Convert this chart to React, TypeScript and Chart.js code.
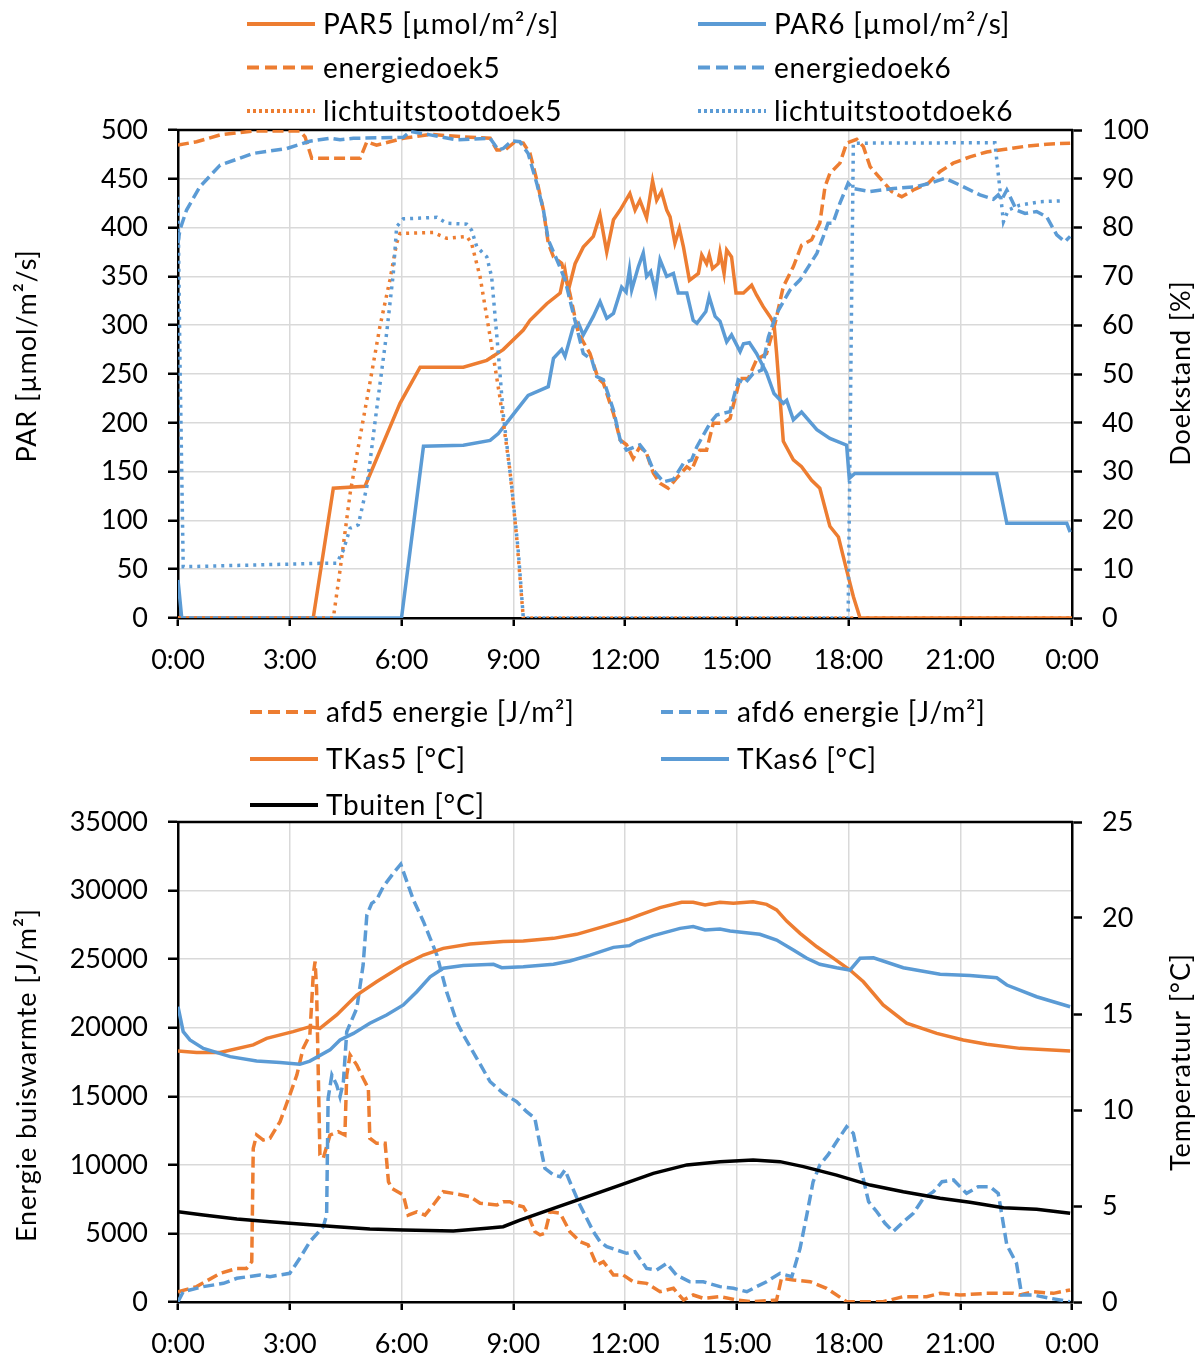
import React, { useEffect, useRef } from 'react';
import { Chart, registerables } from 'chart.js';

Chart.register(...registerables);

const ORANGE = '#ED7D31';
const BLUE = '#5B9BD5';
const BLACK = '#000000';
const GRID = '#D9D9D9';
const FONT = 'Lato';

const timeTickLabels = ['0:00', '3:00', '6:00', '9:00', '12:00', '15:00', '18:00', '21:00', '0:00'];

const topLeftTitle = 'PAR [µmol/m²/s]';
const topRightTitle = 'Doekstand [%]';
const bottomLeftTitle = 'Energie buiswarmte [J/m²]';
const bottomRightTitle = 'Temperatuur [°C]';

// ---------- Top chart data (hours since 0:00) ----------
const par5Hours = [0, 3.63, 4.17, 5.02, 5.96, 6.5, 7.66, 8.29, 8.73, 9.27, 9.45, 9.9, 10.26, 10.39, 10.48, 10.66, 10.88, 11.15, 11.33, 11.51, 11.69, 11.87, 12.13, 12.27, 12.4, 12.58, 12.74, 12.85, 12.98, 13.12, 13.21, 13.34, 13.46, 13.57, 13.73, 13.97, 14.06, 14.19, 14.26, 14.35, 14.5, 14.55, 14.66, 14.73, 14.86, 14.98, 15.18, 15.4, 15.53, 15.71, 15.89, 16.0, 16.07, 16.25, 16.52, 16.74, 17.01, 17.23, 17.5, 17.73, 17.95, 18.13, 18.31, 24];
const par5Values = [0, 0, 133, 135, 220, 257, 257, 264, 275, 295, 305, 322, 333, 356, 336, 363, 380, 391, 413, 375, 408, 418, 435, 418, 428, 410, 448, 428, 437, 418, 411, 384, 399, 380, 346, 353, 372, 363, 372, 358, 363, 375, 353, 377, 370, 333, 333, 341, 331, 319, 309, 302, 271, 181, 162, 155, 141, 133, 94, 83, 49, 22, 0, 0];

const par6Hours = [0, 0.1, 6.0, 6.59, 7.66, 8.38, 8.6, 9.09, 9.4, 9.76, 9.94, 10.08, 10.3, 10.39, 10.61, 10.75, 10.88, 11.15, 11.33, 11.51, 11.69, 11.91, 12.03, 12.12, 12.18, 12.36, 12.49, 12.58, 12.69, 12.82, 12.94, 13.12, 13.3, 13.43, 13.66, 13.83, 13.93, 14.17, 14.26, 14.42, 14.55, 14.73, 14.86, 15.09, 15.18, 15.34, 15.53, 15.8, 16.0, 16.25, 16.34, 16.52, 16.74, 17.15, 17.5, 17.95, 18.02, 18.17, 21.98, 22.25, 23.86, 23.95];
const par6Values = [39, 0, 0, 176, 177, 182, 189, 213, 228, 234, 237, 266, 275, 268, 298, 302, 290, 309, 324, 307, 312, 339, 334, 357, 336, 360, 374, 350, 355, 334, 367, 350, 353, 333, 333, 305, 302, 314, 329, 309, 304, 283, 290, 273, 281, 282, 271, 251, 230, 220, 223, 203, 211, 193, 184, 177, 143, 148, 148, 97, 97, 88];

const doek5Hours = [0, 0.5, 1.13, 2.02, 3.27, 3.41, 3.59, 4.89, 5.07, 5.33, 6.05, 6.77, 7.66, 8.38, 8.56, 8.78, 9.05, 9.27, 9.45, 9.63, 9.81, 9.94, 10.08, 10.3, 10.52, 10.75, 11.06, 11.28, 11.42, 11.69, 11.87, 12.04, 12.22, 12.4, 12.58, 12.76, 12.94, 13.16, 13.38, 13.66, 13.79, 14.01, 14.19, 14.37, 14.64, 14.82, 15.09, 15.31, 15.53, 15.8, 16.03, 16.25, 16.52, 16.74, 17.01, 17.23, 17.37, 17.5, 17.77, 17.95, 18.22, 18.4, 18.58, 18.93, 19.16, 19.43, 19.74, 20.14, 20.46, 20.81, 21.26, 21.71, 22.16, 22.78, 23.32, 23.95];
const doek5Values = [96.9, 97.6, 99, 99.8, 99.8, 98.6, 94.2, 94.2, 97.6, 96.9, 98.3, 99.1, 98.6, 98.3, 95.9, 95.9, 97.6, 97.3, 95.2, 89.8, 83.6, 76.8, 74, 72.7, 66.5, 58.3, 54.2, 49.1, 48.1, 41.9, 36.5, 35.5, 32.7, 35.1, 33.7, 29.7, 27.6, 26.6, 28.6, 31, 30.3, 34.4, 34.4, 39.9, 39.9, 40.9, 49.1, 49.1, 52.9, 54.2, 60.4, 67.9, 72, 76.4, 77.5, 80.9, 88.4, 91.1, 93.2, 97.3, 98.1, 96.6, 92.5, 89.4, 87.4, 86.3, 87.7, 89.1, 91.5, 93.2, 94.5, 95.5, 96, 96.7, 97.1, 97.3];

const doek6Hours = [0, 0.05, 0.23, 0.59, 1.13, 2.02, 2.92, 3.54, 4.08, 4.35, 4.71, 6.05, 6.23, 6.77, 7.48, 8.38, 8.6, 8.73, 8.96, 9.18, 9.4, 9.63, 9.81, 9.94, 10.21, 10.39, 10.61, 10.88, 11.11, 11.24, 11.42, 11.69, 11.87, 12.04, 12.4, 12.58, 12.76, 13.03, 13.3, 13.57, 13.79, 13.93, 14.28, 14.46, 14.82, 15.04, 15.22, 15.44, 15.67, 15.85, 16.07, 16.43, 16.7, 17.15, 17.32, 17.45, 17.58, 17.77, 17.99, 18.13, 18.58, 19.2, 19.83, 20.19, 20.59, 20.99, 21.53, 21.89, 22.02, 22.11, 22.25, 22.51, 22.74, 23.05, 23.32, 23.59, 23.81, 23.95];
const doek6Values = [76.8, 79.5, 83.6, 88.4, 92.8, 95.2, 96.2, 97.7, 98.3, 98, 98.3, 98.5, 99.7, 99, 98, 98.3, 95.9, 96.2, 97.8, 97.6, 95.2, 89.1, 83.6, 77.5, 72.7, 69.3, 62.4, 54.2, 52.9, 49.5, 48.8, 42.6, 36.5, 34.4, 35.5, 33.7, 30.3, 27.9, 28.4, 31.7, 32.4, 35.1, 39.9, 41.6, 42.3, 48.8, 48.1, 50.1, 50.8, 57.6, 62.4, 67.2, 69.3, 74.7, 78.1, 80.9, 80.9, 85, 89.1, 88, 87.4, 88, 88.4, 89.1, 90.1, 88.7, 86.7, 85.8, 86.7, 85.7, 87.7, 83.6, 82.9, 83.3, 82.2, 78.5, 77.1, 78.2];

const licht5Hours = [0, 4.17, 4.35, 4.62, 4.89, 5.15, 5.42, 5.69, 5.87, 5.96, 6.85, 7.21, 7.75, 7.88, 8.11, 8.38, 8.64, 8.91, 9.09, 9.27, 24];
const licht5Values = [0, 0, 9.8, 25.5, 37.2, 48.1, 59.7, 69.3, 76.8, 78.8, 79, 77.8, 78.2, 76.8, 69.9, 57.6, 45.3, 30.3, 16.7, 0, 0];

const licht6Hours = [0, 0.05, 0.14, 3.81, 4.26, 4.44, 4.62, 4.84, 5.07, 5.33, 5.6, 5.78, 5.87, 6.05, 6.95, 7.21, 7.75, 7.88, 8.02, 8.29, 8.42, 8.6, 8.73, 8.96, 9.14, 9.27, 17.99, 18.13, 21.93, 22.16, 22.29, 22.6, 23.14, 23.77];
const licht6Values = [86.3, 54, 10.5, 11.2, 11.2, 13.9, 18.4, 19.1, 26.9, 42.6, 58.3, 70.6, 80.2, 81.8, 82.1, 80.9, 80.7, 79.5, 76.1, 74, 69.9, 54.2, 41.9, 26.9, 13.3, 0, 0, 97.3, 97.4, 81.2, 83.6, 84.6, 85.3, 85.5];

// ---------- Bottom chart data ----------
const afd5Hours = [0, 0.5, 1.13, 1.58, 1.84, 1.98, 2.02, 2.11, 2.29, 2.47, 2.74, 3.0, 3.19, 3.36, 3.54, 3.63, 3.68, 3.72, 3.81, 3.9, 4.08, 4.3, 4.48, 4.53, 4.62, 4.8, 4.97, 5.11, 5.15, 5.33, 5.56, 5.65, 5.74, 6.05, 6.18, 6.41, 6.63, 6.85, 7.12, 7.39, 7.84, 8.11, 8.56, 8.73, 8.91, 9.09, 9.27, 9.4, 9.58, 9.72, 9.85, 9.99, 10.26, 10.52, 10.79, 11.01, 11.24, 11.42, 11.69, 11.95, 12.22, 12.58, 12.94, 13.3, 13.57, 13.83, 14.1, 14.55, 15.0, 15.44, 16.07, 16.2, 16.52, 16.97, 17.41, 17.95, 18.93, 19.47, 20.1, 20.46, 20.99, 21.71, 22.42, 22.6, 22.96, 23.5, 23.95];
const afd5Values = [750, 1120, 2090, 2450, 2450, 2940, 11200, 12180, 11810, 11940, 13150, 15090, 16550, 18500, 19470, 23840, 24820, 22870, 10720, 10480, 12180, 12420, 12180, 16550, 18010, 17280, 16310, 15580, 11940, 11570, 11570, 8770, 8290, 7800, 6340, 6580, 6340, 7070, 8040, 7920, 7680, 7200, 7070, 7310, 7310, 7070, 6950, 6340, 5130, 4890, 5010, 6580, 6470, 5130, 4400, 4160, 2700, 2940, 1970, 1970, 1480, 1360, 750, 1000, 150, 510, 270, 390, 150, 20, 150, 1730, 1600, 1480, 1000, 20, 20, 390, 390, 630, 510, 630, 630, 510, 750, 630, 880];

const afd6Hours = [0, 0.14, 0.68, 1.22, 1.58, 2.2, 2.47, 3.0, 3.27, 3.54, 3.9, 3.99, 4.03, 4.13, 4.26, 4.35, 4.44, 4.53, 4.8, 4.97, 5.07, 5.2, 5.33, 5.51, 5.78, 5.98, 6.05, 6.32, 6.59, 6.77, 6.95, 7.21, 7.48, 7.66, 8.02, 8.38, 8.73, 9.09, 9.36, 9.58, 9.72, 9.85, 10.08, 10.26, 10.39, 10.52, 10.79, 11.15, 11.33, 11.51, 11.78, 12.04, 12.27, 12.58, 12.85, 13.12, 13.38, 13.74, 14.1, 14.55, 14.91, 15.27, 15.53, 15.8, 16.16, 16.48, 16.7, 16.88, 17.05, 17.23, 17.45, 17.68, 17.95, 18.13, 18.31, 18.54, 18.76, 18.98, 19.2, 19.43, 19.74, 20.01, 20.28, 20.51, 20.82, 21.17, 21.48, 21.8, 22.02, 22.25, 22.51, 22.65, 22.96, 23.42, 23.95];
const afd6Values = [20, 750, 1120, 1360, 1730, 1970, 1850, 2090, 3190, 4400, 5490, 6340, 14850, 16550, 15820, 14970, 16060, 19710, 21420, 24570, 28220, 29070, 29310, 30280, 31260, 31920, 31380, 29310, 27730, 26520, 25300, 22630, 20440, 19470, 17770, 16060, 15220, 14610, 13880, 13400, 11450, 9750, 9260, 9140, 9630, 8770, 7070, 5130, 4400, 4030, 3790, 3550, 3670, 2450, 2330, 2820, 1970, 1480, 1480, 1120, 1000, 750, 1120, 1480, 2090, 1850, 3920, 6340, 8770, 9990, 10720, 11690, 12780, 12300, 9990, 7310, 6580, 5740, 5130, 5740, 6470, 7560, 8040, 8770, 8900, 7920, 8410, 8410, 7920, 4160, 2820, 510, 510, 270, 20];

const tkas5Hours = [0, 0.5, 1.13, 2.02, 2.38, 3.09, 3.54, 3.81, 4.26, 4.8, 5.33, 6.05, 6.59, 7.12, 7.84, 8.73, 9.27, 10.08, 10.7, 11.42, 12.12, 12.4, 12.94, 13.52, 13.83, 14.15, 14.55, 14.91, 15.44, 15.8, 16.07, 16.34, 16.7, 17.15, 17.6, 18.04, 18.4, 18.93, 19.56, 20.37, 21.08, 21.71, 22.6, 23.95];
const tkas5Values = [13.07, 13.0, 13.0, 13.39, 13.73, 14.08, 14.34, 14.25, 14.95, 15.99, 16.68, 17.55, 18.07, 18.42, 18.65, 18.77, 18.8, 18.94, 19.15, 19.55, 19.95, 20.16, 20.54, 20.82, 20.82, 20.68, 20.82, 20.77, 20.85, 20.71, 20.42, 19.84, 19.2, 18.5, 17.9, 17.29, 16.68, 15.47, 14.52, 13.99, 13.65, 13.42, 13.21, 13.07];

const tkas6Hours = [0, 0.14, 0.32, 0.68, 1.4, 2.11, 2.74, 3.27, 3.54, 4.08, 4.35, 4.71, 5.15, 5.6, 6.05, 6.41, 6.77, 7.12, 7.66, 8.47, 8.69, 9.27, 10.08, 10.52, 11.06, 11.69, 12.12, 12.31, 12.76, 13.48, 13.83, 14.15, 14.55, 14.82, 15.62, 16.07, 16.52, 16.88, 17.23, 17.68, 18.04, 18.31, 18.67, 19.47, 20.46, 21.26, 21.98, 22.25, 23.05, 23.95];
const tkas6Values = [15.38, 14.08, 13.65, 13.21, 12.78, 12.55, 12.47, 12.38, 12.55, 13.13, 13.65, 13.99, 14.52, 14.95, 15.47, 16.16, 16.94, 17.38, 17.52, 17.59, 17.41, 17.46, 17.59, 17.76, 18.07, 18.47, 18.56, 18.77, 19.08, 19.46, 19.55, 19.38, 19.43, 19.32, 19.15, 18.85, 18.33, 17.9, 17.59, 17.41, 17.29, 17.9, 17.93, 17.41, 17.07, 17.0, 16.89, 16.51, 15.9, 15.38];

const tbuitenHours = [0, 0.68, 1.58, 2.47, 3.36, 4.26, 5.15, 6.05, 7.39, 8.29, 8.73, 9.18, 10.08, 10.97, 11.87, 12.76, 13.66, 14.55, 15.44, 16.16, 16.79, 17.68, 18.58, 19.47, 20.46, 21.26, 22.16, 23.05, 23.95];
const tbuitenValues = [4.7, 4.53, 4.32, 4.18, 4.05, 3.92, 3.8, 3.75, 3.7, 3.84, 3.92, 4.27, 4.88, 5.48, 6.09, 6.7, 7.14, 7.31, 7.4, 7.31, 7.05, 6.61, 6.09, 5.74, 5.4, 5.19, 4.91, 4.83, 4.62];

// ---------- helpers ----------
function pts(h: number[], v: number[]) {
  return h.map((x, i) => ({ x, y: v[i] }));
}

const DASH = [11, 5];
const DOT = [3, 5];
const LEG_DASH = [12, 6];
const LEG_DOT = [3, 3];

function ds(label: string, color: string, data: any[], yAxisID: string, dash: number[] | null, legendDash: number[] | null, order: number) {
  return {
    label,
    data,
    yAxisID,
    borderColor: color,
    backgroundColor: color,
    borderWidth: 3.5,
    borderDash: dash || [],
    legendDash: legendDash || [],
    pointRadius: 0,
    pointHoverRadius: 0,
    tension: 0,
    fill: false,
    order,
  };
}

const legendPlugin = {
  id: 'gridLegend',
  afterDraw(chart: any, _args: any, opts: any) {
    const ctx = chart.ctx;
    const { cols, rows, lineLen, textGap } = opts;
    chart.data.datasets.forEach((d: any, i: number) => {
      const col = i % 2;
      const row = Math.floor(i / 2);
      const x0 = cols[col];
      const y = rows[row];
      ctx.save();
      ctx.strokeStyle = d.borderColor;
      ctx.lineWidth = 4;
      ctx.setLineDash(d.legendDash || []);
      ctx.beginPath();
      ctx.moveTo(x0, y);
      ctx.lineTo(x0 + lineLen, y);
      ctx.stroke();
      ctx.setLineDash([]);
      ctx.fillStyle = '#000';
      ctx.font = `28px ${FONT}`;
      (ctx as any).letterSpacing = '0.8px';
      ctx.textBaseline = 'middle';
      ctx.textAlign = 'left';
      ctx.fillText(d.label, x0 + lineLen + textGap, y + 1);
      ctx.restore();
    });
  },
};

const axisTitlePlugin = {
  id: 'axisTitles',
  afterDraw(chart: any, _args: any, opts: any) {
    const ctx = chart.ctx;
    (opts.items || []).forEach((it: any) => {
      ctx.save();
      ctx.translate(it.x, it.y);
      ctx.rotate(-Math.PI / 2);
      ctx.font = `27px ${FONT}`;
      (ctx as any).letterSpacing = '0.9px';
      ctx.fillStyle = '#000';
      ctx.textAlign = 'center';
      ctx.textBaseline = 'middle';
      ctx.fillText(it.text, 0, 0);
      ctx.restore();
    });
  },
};

const frameTopPlugin = {
  id: 'frameTop',
  beforeDatasetsDraw(chart: any) {
    const { ctx, chartArea } = chart;
    ctx.save();
    ctx.strokeStyle = BLACK;
    ctx.lineWidth = 2.5;
    ctx.beginPath();
    ctx.moveTo(chartArea.left - 1, chartArea.top);
    ctx.lineTo(chartArea.right + 1, chartArea.top);
    ctx.stroke();
    ctx.restore();
  },
};

const tickFont = { family: FONT, size: 27 };

function xScale(height: number) {
  return {
    type: 'linear',
    min: 0,
    max: 24,
    afterFit: (s: any) => { s.height = height; },
    ticks: {
      stepSize: 3,
      autoSkip: false,
      maxRotation: 0,
      padding: 18,
      color: '#000',
      font: tickFont,
      callback: (_v: any, i: number) => timeTickLabels[i],
    },
    grid: { color: GRID, lineWidth: 1.5, tickColor: BLACK, tickLength: 8, tickWidth: 2.5 },
    border: { color: BLACK, width: 2.5 },
  };
}

function yLeft(min: number, max: number, step: number) {
  return {
    type: 'linear',
    position: 'left',
    min,
    max,
    afterFit: (s: any) => { s.width = 178; },
    ticks: { stepSize: step, padding: 20, color: '#000', font: tickFont, callback: (v: any) => String(v) },
    grid: { color: GRID, lineWidth: 1.5, tickColor: BLACK, tickLength: 10, tickWidth: 2.5 },
    border: { color: BLACK, width: 2.5 },
  };
}

function yRight(min: number, max: number, step: number) {
  return {
    type: 'linear',
    position: 'right',
    min,
    max,
    afterFit: (s: any) => { s.width = 131; },
    ticks: { stepSize: step, padding: 20, color: '#000', font: tickFont, callback: (v: any) => String(v) },
    grid: { drawOnChartArea: false, tickColor: BLACK, tickLength: 10, tickWidth: 2.5 },
    border: { color: BLACK, width: 2.5 },
  };
}

function topConfig(): any {
  return {
    type: 'line',
    data: {
      datasets: [
        ds('PAR5 [µmol/m²/s]', ORANGE, pts(par5Hours, par5Values), 'y', null, null, 6),
        ds('PAR6 [µmol/m²/s]', BLUE, pts(par6Hours, par6Values), 'y', null, null, 5),
        ds('energiedoek5', ORANGE, pts(doek5Hours, doek5Values), 'y1', DASH, LEG_DASH, 4),
        ds('energiedoek6', BLUE, pts(doek6Hours, doek6Values), 'y1', DASH, LEG_DASH, 3),
        ds('lichtuitstootdoek5', ORANGE, pts(licht5Hours, licht5Values), 'y1', DOT, LEG_DOT, 2),
        ds('lichtuitstootdoek6', BLUE, pts(licht6Hours, licht6Values), 'y1', DOT, LEG_DOT, 1),
      ],
    },
    options: {
      responsive: false,
      animation: false,
      devicePixelRatio: 1,
      layout: { padding: { top: 130, left: 0, right: 0, bottom: 0 } },
      plugins: {
        legend: { display: false },
        tooltip: { enabled: false },
        gridLegend: { cols: [247, 698], rows: [24, 67.5, 111], lineLen: 68, textGap: 8 },
        axisTitles: {
          items: [
            { text: topLeftTitle, x: 27, y: 356 },
            { text: topRightTitle, x: 1181, y: 373 },
          ],
        },
      },
      scales: {
        x: xScale(72),
        y: yLeft(0, 500, 50),
        y1: yRight(0, 100, 10),
      },
    },
    plugins: [legendPlugin, axisTitlePlugin, frameTopPlugin],
  };
}

function bottomConfig(): any {
  return {
    type: 'line',
    data: {
      datasets: [
        ds('afd5 energie [J/m²]', ORANGE, pts(afd5Hours, afd5Values), 'y', DASH, LEG_DASH, 5),
        ds('afd6 energie [J/m²]', BLUE, pts(afd6Hours, afd6Values), 'y', DASH, LEG_DASH, 4),
        ds('TKas5 [°C]', ORANGE, pts(tkas5Hours, tkas5Values), 'y1', null, null, 3),
        ds('TKas6 [°C]', BLUE, pts(tkas6Hours, tkas6Values), 'y1', null, null, 2),
        ds('Tbuiten [°C]', BLACK, pts(tbuitenHours, tbuitenValues), 'y1', null, null, 1),
      ],
    },
    options: {
      responsive: false,
      animation: false,
      devicePixelRatio: 1,
      layout: { padding: { top: 132, left: 0, right: 0, bottom: 0 } },
      plugins: {
        legend: { display: false },
        tooltip: { enabled: false },
        gridLegend: { cols: [250, 661], rows: [22, 69, 115], lineLen: 68, textGap: 8 },
        axisTitles: {
          items: [
            { text: bottomLeftTitle, x: 27, y: 385 },
            { text: bottomRightTitle, x: 1181, y: 372 },
          ],
        },
      },
      scales: {
        x: xScale(56),
        y: yLeft(0, 35000, 5000),
        y1: yRight(0, 25, 5),
      },
    },
    plugins: [legendPlugin, axisTitlePlugin, frameTopPlugin],
  };
}

export default function App() {
  const topRef = useRef<HTMLCanvasElement>(null);
  const botRef = useRef<HTMLCanvasElement>(null);

  useEffect(() => {
    const c1 = new Chart(topRef.current as HTMLCanvasElement, topConfig());
    const c2 = new Chart(botRef.current as HTMLCanvasElement, bottomConfig());
    return () => {
      c1.destroy();
      c2.destroy();
    };
  }, []);

  return (
    <div style={{ position: 'absolute', left: 0, top: 0, width: 1203, height: 1358, background: '#fff' }}>
      <canvas ref={topRef} width={1203} height={690} style={{ position: 'absolute', left: 0, top: 0, width: 1203, height: 690 }} />
      <canvas ref={botRef} width={1203} height={668} style={{ position: 'absolute', left: 0, top: 690, width: 1203, height: 668 }} />
    </div>
  );
}
